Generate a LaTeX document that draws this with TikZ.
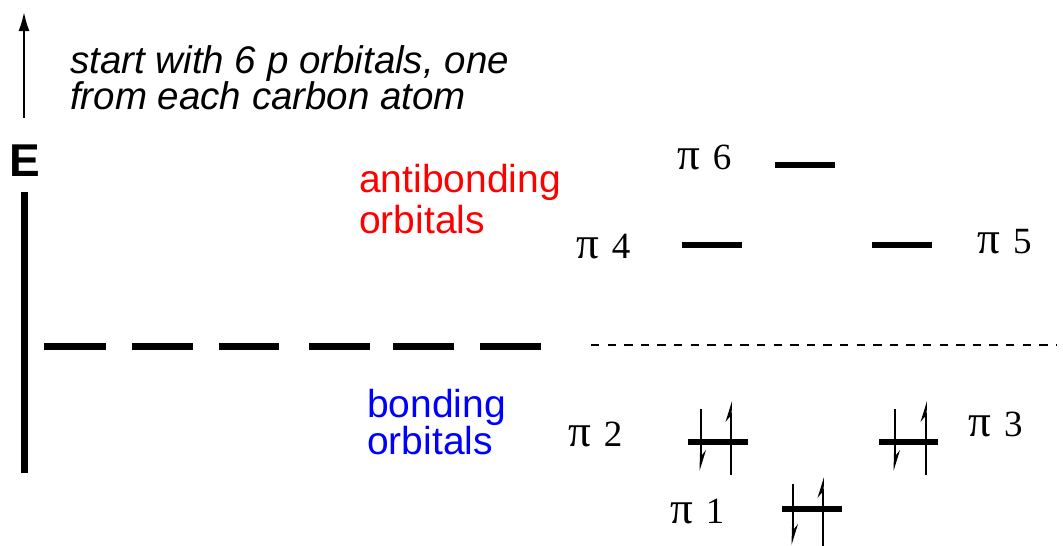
\documentclass[tikz,border=0pt]{standalone}
\usepackage{fontspec}
\usepackage{graphicx}
\setmainfont{Liberation Serif}
\setsansfont{Liberation Sans}
\usetikzlibrary{arrows.meta}
\newcommand\electronup[3]{% x, ybottom, ytip
  \draw[spin] (#1,#2) -- (#1,#3+12);
  \fill (#1+1.5,#3) -- (#1-5,#3+21) -- (#1-1,#3+16) -- (#1+1,#3+18) -- cycle;}
\newcommand\electrondown[3]{% x, ytop, ytip
  \draw[spin] (#1,#2) -- (#1,#3-12);
  \fill (#1-1.5,#3) -- (#1+5,#3-21) -- (#1+1,#3-16) -- (#1-1,#3-18) -- cycle;}
\newcommand\pilab[1]{\scalebox{1.22}{π}\hspace{13pt}#1}
\begin{document}
\begin{tikzpicture}[x=1pt,y=-1pt,
  sanstext/.style={font=\sffamily\fontsize{39}{39}\selectfont, inner sep=0pt, anchor=base west},
  note/.style={font=\sffamily\itshape\fontsize{38.5}{38.5}\selectfont, inner sep=0pt, anchor=base west},
  pilabel/.style={font=\rmfamily\fontsize{37}{37}\selectfont, inner sep=0pt, anchor=base west},
  level/.style={line width=6pt},
  pbasis/.style={line width=7pt},
  spin/.style={line width=2pt},
  nbline/.style={line width=2pt, dash pattern=on 8.3pt off 8.3pt}]
\useasboundingbox (0,0) rectangle (1063,546);
% energy axis
\coordinate (axbot) at (24,118);
\coordinate (axtop) at (24,12);
\draw[line width=2pt, -{Latex[length=19pt,width=11pt]}] (axbot) -- (axtop);
\node[font=\sffamily\bfseries\fontsize{46}{46}\selectfont, inner sep=0pt, anchor=base] (E) at (24.5,176) {E};
\draw[line width=6.5pt] (24.5,192) -- (24.5,473);
% note
\node[note] (n1) at (70,73) {start with 6 p orbitals, one};
\node[note] (n2) at (70,109) {from each carbon atom};
% labels
\node[sanstext, text=red] (ab1) at (359,192) {antibonding};
\node[sanstext, text=red] (ab2) at (359,233) {orbitals};
\node[sanstext, text=blue] (b1) at (367,417) {bonding};
\node[sanstext, text=blue] (b2) at (367,454) {orbitals};
% p orbitals
\foreach \a/\b in {44/106,132/193,219/279,309/370,393/454,480/541}
  \draw[pbasis] (\a,346) -- (\b,346);
% nonbonding reference
\coordinate (nb1) at (591,345);
\coordinate (nb2) at (1057,345);
\draw[nbline] (nb1) -- (nb2);
% pi levels
\draw[level] (775,165) -- (835,165);
\draw[level] (682,245) -- (742,245);
\draw[level] (872,245) -- (932,245);
\draw[level] (688,442) -- (748,442);
\draw[level] (879,442) -- (938,442);
\draw[level] (782,509) -- (842,509);
% pi labels
\node[pilabel] (p6) at (677,169) {\pilab{6}};
\node[pilabel] (p4) at (576,258) {\pilab{4}};
\node[pilabel] (p5) at (977,253) {\pilab{5}};
\node[pilabel] (p2) at (568,446) {\pilab{2}};
\node[pilabel] (p3) at (968,436) {\pilab{3}};
\node[pilabel] (p1) at (670,523) {\pilab{1}};
% electrons
\electrondown{701}{409}{471}
\electronup{730.5}{475}{401}
\electrondown{895}{409}{471}
\electronup{925.5}{475}{401}
\electrondown{793}{484}{545}
\electronup{822.5}{546}{477}
\end{tikzpicture}
\end{document}
